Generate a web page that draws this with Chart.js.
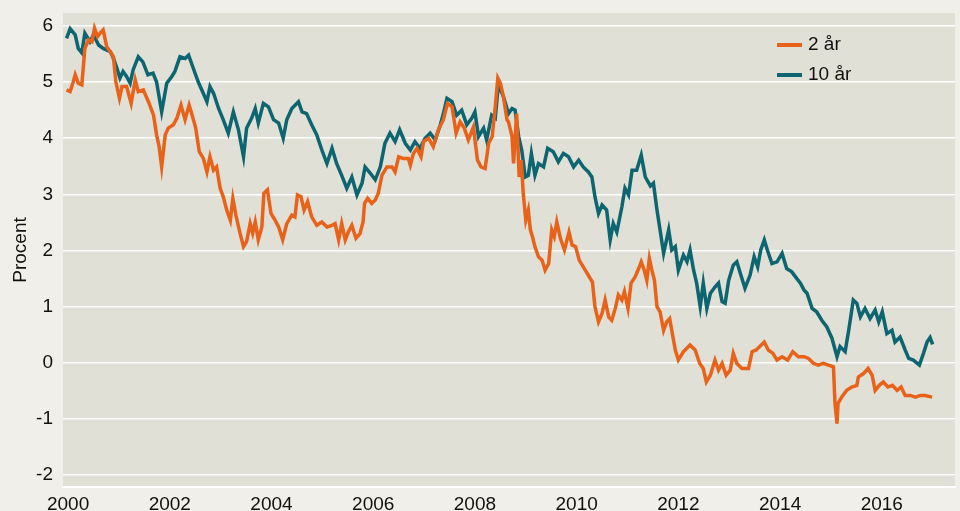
<!DOCTYPE html>
<html>
<head>
<meta charset="utf-8">
<script src="https://cdn.jsdelivr.net/npm/chart.js@4"></script>
<style>
  html, body { margin: 0; padding: 0; background: #f0efe9; }
  #wrap { width: 960px; height: 511px; position: relative; }
</style>
</head>
<body>
<div id="wrap"><canvas id="chart"></canvas></div>
<script>
// 2-year yield (decimal year, percent)
const years2 = [1999.97, 2000.04, 2000.10, 2000.14, 2000.20, 2000.27, 2000.33, 2000.40, 2000.47, 2000.52, 2000.58, 2000.63, 2000.69, 2000.76, 2000.83, 2000.89, 2000.94, 2001.01, 2001.06, 2001.15, 2001.24, 2001.32, 2001.38, 2001.48, 2001.58, 2001.68, 2001.74, 2001.79, 2001.84, 2001.91, 2001.97, 2002.07, 2002.14, 2002.22, 2002.30, 2002.38, 2002.44, 2002.51, 2002.58, 2002.66, 2002.73, 2002.79, 2002.86, 2002.92, 2002.99, 2003.05, 2003.12, 2003.19, 2003.24, 2003.30, 2003.38, 2003.45, 2003.51, 2003.58, 2003.63, 2003.68, 2003.74, 2003.81, 2003.85, 2003.92, 2003.99, 2004.07, 2004.14, 2004.22, 2004.30, 2004.40, 2004.46, 2004.51, 2004.58, 2004.64, 2004.71, 2004.79, 2004.89, 2004.99, 2005.09, 2005.19, 2005.25, 2005.32, 2005.38, 2005.45, 2005.51, 2005.58, 2005.66, 2005.74, 2005.80, 2005.83, 2005.89, 2005.97, 2006.04, 2006.10, 2006.17, 2006.27, 2006.37, 2006.43, 2006.50, 2006.59, 2006.69, 2006.73, 2006.79, 2006.86, 2006.94, 2006.99, 2007.09, 2007.18, 2007.28, 2007.38, 2007.46, 2007.55, 2007.63, 2007.71, 2007.79, 2007.87, 2007.97, 2008.05, 2008.12, 2008.20, 2008.27, 2008.34, 2008.40, 2008.45, 2008.50, 2008.56, 2008.63, 2008.66, 2008.73, 2008.76, 2008.82, 2008.87, 2008.91, 2008.95, 2009.00, 2009.05, 2009.09, 2009.13, 2009.18, 2009.25, 2009.32, 2009.38, 2009.45, 2009.51, 2009.56, 2009.61, 2009.68, 2009.76, 2009.85, 2009.91, 2009.98, 2010.05, 2010.13, 2010.23, 2010.31, 2010.36, 2010.43, 2010.50, 2010.56, 2010.63, 2010.69, 2010.76, 2010.82, 2010.89, 2010.94, 2011.01, 2011.07, 2011.15, 2011.22, 2011.27, 2011.33, 2011.38, 2011.43, 2011.48, 2011.53, 2011.58, 2011.64, 2011.71, 2011.77, 2011.83, 2011.87, 2011.94, 2012.00, 2012.10, 2012.23, 2012.33, 2012.42, 2012.49, 2012.55, 2012.63, 2012.72, 2012.79, 2012.86, 2012.94, 2013.02, 2013.08, 2013.15, 2013.25, 2013.38, 2013.45, 2013.53, 2013.60, 2013.69, 2013.77, 2013.86, 2013.94, 2014.04, 2014.15, 2014.25, 2014.36, 2014.47, 2014.56, 2014.66, 2014.75, 2014.85, 2014.95, 2015.05, 2015.08, 2015.12, 2015.14, 2015.22, 2015.31, 2015.41, 2015.51, 2015.54, 2015.64, 2015.73, 2015.81, 2015.87, 2015.95, 2016.03, 2016.12, 2016.21, 2016.30, 2016.38, 2016.46, 2016.56, 2016.66, 2016.76, 2016.85, 2016.99];
const values2 = [4.86, 4.83, 5.0, 5.13, 4.98, 4.95, 5.6, 5.75, 5.72, 5.96, 5.81, 5.87, 5.93, 5.63, 5.54, 5.45, 5.0, 4.71, 4.92, 4.92, 4.62, 5.04, 4.83, 4.86, 4.65, 4.41, 4.06, 3.85, 3.49, 4.06, 4.18, 4.24, 4.36, 4.59, 4.33, 4.59, 4.41, 4.18, 3.76, 3.64, 3.4, 3.67, 3.43, 3.49, 3.11, 2.96, 2.72, 2.54, 2.93, 2.63, 2.31, 2.07, 2.16, 2.48, 2.31, 2.51, 2.19, 2.42, 3.02, 3.08, 2.66, 2.54, 2.42, 2.19, 2.48, 2.63, 2.6, 2.99, 2.96, 2.72, 2.87, 2.6, 2.45, 2.51, 2.42, 2.45, 2.48, 2.19, 2.48, 2.19, 2.33, 2.45, 2.22, 2.3, 2.51, 2.84, 2.93, 2.84, 2.9, 3.02, 3.34, 3.49, 3.49, 3.4, 3.67, 3.64, 3.64, 3.52, 3.73, 3.82, 3.67, 3.94, 4.0, 3.85, 4.15, 4.33, 4.62, 4.56, 4.09, 4.29, 4.18, 3.97, 4.2, 3.61, 3.49, 3.46, 3.91, 4.03, 4.56, 5.07, 4.98, 4.74, 4.33, 4.29, 4.03, 3.55, 4.44, 3.31, 3.61, 3.02, 2.54, 2.72, 2.37, 2.25, 2.07, 1.89, 1.83, 1.65, 1.77, 2.37, 2.25, 2.51, 2.22, 2.01, 2.33, 2.1, 2.07, 1.83, 1.71, 1.56, 1.44, 1.0, 0.73, 0.88, 1.12, 0.82, 0.76, 0.97, 1.21, 1.12, 1.27, 0.97, 1.42, 1.53, 1.68, 1.8, 1.65, 1.47, 1.86, 1.65, 1.47, 1.0, 0.91, 0.58, 0.73, 0.79, 0.58, 0.23, 0.05, 0.2, 0.32, 0.23, -0.01, -0.1, -0.34, -0.22, 0.05, -0.13, -0.01, -0.22, -0.13, 0.17, -0.01, -0.1, -0.1, 0.2, 0.23, 0.29, 0.37, 0.23, 0.17, 0.05, 0.11, 0.05, 0.2, 0.11, 0.11, 0.08, -0.01, -0.04, -0.01, -0.04, -0.07, -0.72, -1.08, -0.72, -0.6, -0.49, -0.43, -0.4, -0.25, -0.19, -0.1, -0.22, -0.49, -0.4, -0.34, -0.43, -0.4, -0.49, -0.43, -0.58, -0.58, -0.61, -0.58, -0.58, -0.61];

// 10-year yield (decimal year, percent)
const years10 = [1999.97, 2000.04, 2000.14, 2000.20, 2000.27, 2000.33, 2000.43, 2000.50, 2000.60, 2000.69, 2000.83, 2000.88, 2000.96, 2001.02, 2001.08, 2001.15, 2001.22, 2001.28, 2001.38, 2001.47, 2001.57, 2001.67, 2001.74, 2001.84, 2001.94, 2002.04, 2002.10, 2002.20, 2002.30, 2002.37, 2002.46, 2002.56, 2002.63, 2002.73, 2002.79, 2002.86, 2002.96, 2003.05, 2003.15, 2003.25, 2003.35, 2003.45, 2003.51, 2003.61, 2003.68, 2003.74, 2003.84, 2003.94, 2004.04, 2004.14, 2004.23, 2004.30, 2004.40, 2004.53, 2004.60, 2004.69, 2004.79, 2004.89, 2004.99, 2005.09, 2005.19, 2005.28, 2005.38, 2005.48, 2005.58, 2005.68, 2005.78, 2005.84, 2005.94, 2006.04, 2006.14, 2006.23, 2006.33, 2006.43, 2006.52, 2006.63, 2006.73, 2006.82, 2006.92, 2007.02, 2007.12, 2007.22, 2007.32, 2007.38, 2007.45, 2007.55, 2007.64, 2007.74, 2007.84, 2007.94, 2008.00, 2008.07, 2008.17, 2008.23, 2008.33, 2008.40, 2008.46, 2008.56, 2008.66, 2008.73, 2008.79, 2008.86, 2008.92, 2008.99, 2009.05, 2009.11, 2009.18, 2009.25, 2009.35, 2009.43, 2009.54, 2009.64, 2009.74, 2009.84, 2009.94, 2010.04, 2010.13, 2010.23, 2010.30, 2010.36, 2010.43, 2010.50, 2010.59, 2010.66, 2010.72, 2010.79, 2010.89, 2010.95, 2011.02, 2011.09, 2011.18, 2011.27, 2011.35, 2011.45, 2011.51, 2011.58, 2011.64, 2011.71, 2011.81, 2011.87, 2011.94, 2012.00, 2012.10, 2012.17, 2012.23, 2012.30, 2012.36, 2012.43, 2012.49, 2012.56, 2012.63, 2012.72, 2012.79, 2012.86, 2012.92, 2012.99, 2013.08, 2013.15, 2013.22, 2013.31, 2013.41, 2013.49, 2013.56, 2013.62, 2013.69, 2013.75, 2013.84, 2013.94, 2014.04, 2014.13, 2014.23, 2014.33, 2014.40, 2014.47, 2014.53, 2014.63, 2014.72, 2014.82, 2014.92, 2015.02, 2015.12, 2015.18, 2015.28, 2015.35, 2015.40, 2015.44, 2015.51, 2015.58, 2015.67, 2015.77, 2015.87, 2015.94, 2016.01, 2016.10, 2016.20, 2016.26, 2016.36, 2016.46, 2016.53, 2016.62, 2016.74, 2016.82, 2016.89, 2016.95, 2017.00];
const values10 = [5.78, 5.95, 5.84, 5.6, 5.52, 5.87, 5.72, 5.84, 5.66, 5.6, 5.54, 5.45, 5.25, 5.07, 5.19, 5.1, 4.98, 5.22, 5.45, 5.36, 5.13, 5.16, 5.0, 4.47, 4.98, 5.1, 5.19, 5.45, 5.42, 5.48, 5.25, 5.0, 4.86, 4.65, 4.92, 4.8, 4.53, 4.33, 4.09, 4.47, 4.15, 3.67, 4.18, 4.36, 4.53, 4.27, 4.62, 4.56, 4.33, 4.27, 4.0, 4.33, 4.53, 4.65, 4.47, 4.44, 4.24, 4.06, 3.79, 3.55, 3.82, 3.55, 3.34, 3.11, 3.31, 2.99, 3.2, 3.49, 3.38, 3.26, 3.49, 3.91, 4.09, 3.94, 4.15, 3.91, 3.79, 3.94, 3.82, 4.0, 4.09, 3.97, 4.24, 4.44, 4.71, 4.65, 4.41, 4.5, 4.24, 4.36, 4.47, 4.03, 4.18, 3.97, 4.41, 4.36, 4.95, 4.74, 4.44, 4.53, 4.5, 4.03, 3.79, 3.31, 3.34, 3.73, 3.34, 3.55, 3.49, 3.82, 3.76, 3.58, 3.73, 3.67, 3.49, 3.61, 3.49, 3.4, 3.31, 2.96, 2.66, 2.81, 2.72, 2.19, 2.48, 2.33, 2.78, 3.11, 2.99, 3.43, 3.43, 3.7, 3.31, 3.15, 3.2, 2.72, 2.37, 1.95, 2.37, 2.01, 2.07, 1.65, 1.92, 1.8, 2.01, 1.65, 1.42, 1.0, 1.42, 0.97, 1.24, 1.35, 1.42, 1.09, 1.06, 1.47, 1.74, 1.8, 1.59, 1.33, 1.56, 1.89, 1.71, 2.01, 2.19, 2.01, 1.77, 1.8, 1.95, 1.68, 1.62, 1.5, 1.42, 1.3, 1.24, 0.97, 0.91, 0.76, 0.64, 0.44, 0.11, 0.29, 0.2, 0.58, 0.88, 1.12, 1.06, 0.82, 0.97, 0.79, 0.94, 0.73, 0.91, 0.52, 0.58, 0.37, 0.46, 0.23, 0.08, 0.05, -0.04, 0.17, 0.37, 0.45, 0.33];

const seriesNames = ['2 år', '10 år'];
const xTicks = [2000, 2002, 2004, 2006, 2008, 2010, 2012, 2014, 2016];
const yTicks = [-2, -1, 0, 1, 2, 3, 4, 5, 6];

const toPoints = (xs, ys) => xs.map((x, i) => ({ x: x, y: ys[i] }));

// plot area fill
const plotBg = {
  id: 'plotBg',
  beforeDraw(chart) {
    const { ctx, chartArea: a } = chart;
    ctx.save();
    ctx.fillStyle = '#e1e0d6';
    ctx.fillRect(a.left, a.top, a.right - a.left, a.bottom - a.top);
    ctx.restore();
  }
};

// legend drawn inside the plot, top right
const innerLegend = {
  id: 'innerLegend',
  afterDraw(chart) {
    const ctx = chart.ctx;
    ctx.save();
    ctx.font = '19px "Liberation Sans", Arial, sans-serif';
    ctx.textBaseline = 'middle';
    chart.data.datasets.forEach((ds, i) => {
      const y = 45 + i * 30;
      ctx.fillStyle = ds.borderColor;
      ctx.fillRect(777, y - 2, 25, 4);
      ctx.fillStyle = '#111';
      ctx.fillText(ds.label, 808, y);
    });
    ctx.restore();
  }
};

new Chart(document.getElementById('chart'), {
  type: 'line',
  data: {
    datasets: [
      {
        label: seriesNames[0],
        data: toPoints(years2, values2),
        borderColor: '#e8621a',
        borderWidth: 3.5,
        pointRadius: 0,
        tension: 0
      },
      {
        label: seriesNames[1],
        data: toPoints(years10, values10),
        borderColor: '#0c6571',
        borderWidth: 3.5,
        pointRadius: 0,
        tension: 0
      }
    ]
  },
  options: {
    responsive: true,
    maintainAspectRatio: false,
    animation: false,
    layout: { padding: { top: 13, right: 5, left: 0, bottom: 0 } },
    plugins: {
      legend: { display: false },
      tooltip: { enabled: false }
    },
    scales: {
      x: {
        type: 'linear',
        min: 1999.9,
        max: 2017.44,
        afterBuildTicks: (s) => { s.ticks = xTicks.map(v => ({ value: v })); },
        afterFit: (s) => { s.height = 24; },
        grid: { display: false, drawTicks: false },
        border: { display: true, color: '#ffffff', width: 2 },
        ticks: {
          padding: 6,
          color: '#111',
          maxRotation: 0,
          font: { family: '"Liberation Sans", Arial, sans-serif', size: 19 },
          callback: (v) => String(v)
        }
      },
      y: {
        min: -2.21,
        max: 6.23,
        afterBuildTicks: (s) => { s.ticks = yTicks.map(v => ({ value: v })); },
        afterFit: (s) => { s.width = 63; s.paddingTop = 0; s.paddingBottom = 0; },
        grid: { color: '#ffffff', lineWidth: 1.5, drawTicks: false },
        border: { display: false },
        title: {
          display: true,
          text: 'Procent',
          color: '#111',
          padding: { top: 9, bottom: 0 },
          font: { family: '"Liberation Sans", Arial, sans-serif', size: 19 }
        },
        ticks: {
          padding: 10,
          color: '#111',
          font: { family: '"Liberation Sans", Arial, sans-serif', size: 19 }
        }
      }
    }
  },
  plugins: [plotBg, innerLegend]
});
</script>
</body>
</html>
